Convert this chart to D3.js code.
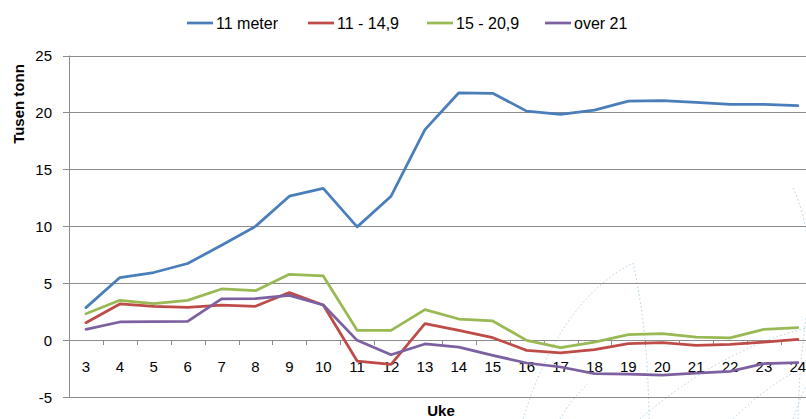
<!DOCTYPE html>
<html>
<head>
<meta charset="utf-8">
<script src="https://cdn.jsdelivr.net/npm/d3@7"></script>
<style>
  body { margin: 0; background: #fff; overflow: hidden; }
  text { font-family: "Liberation Sans", Arial, sans-serif; fill: #000; }
</style>
</head>
<body>
<div id="chart"></div>
<script>
// weeks on the x axis
var weeks = [3, 4, 5, 6, 7, 8, 9, 10, 11, 12, 13, 14, 15, 16, 17, 18, 19, 20, 21, 22, 23, 24];

var meter11 = [2.87, 5.51, 5.95, 6.74, 8.35, 10.0, 12.65, 13.33, 9.96, 12.65, 18.5, 21.73,
  21.68, 20.12, 19.83, 20.21, 21.0, 21.03, 20.88, 20.71, 20.71, 20.59];
var m11to149 = [1.55, 3.19, 2.99, 2.9, 3.1, 2.99, 4.19, 3.1, -1.82, -2.11, 1.46, 0.88,
  0.23, -0.88, -1.11, -0.82, -0.29, -0.2, -0.44, -0.35, -0.15, 0.09];
var m15to209 = [2.34, 3.51, 3.22, 3.51, 4.51, 4.36, 5.8, 5.65, 0.88, 0.88, 2.7, 1.87,
  1.7, 0.0, -0.64, -0.15, 0.5, 0.59, 0.29, 0.21, 0.97, 1.11];
var over21 = [0.97, 1.61, 1.64, 1.67, 3.63, 3.66, 3.95, 3.1, 0.0, -1.26, -0.32, -0.59,
  -1.32, -1.99, -2.34, -2.93, -2.96, -3.05, -2.87, -2.72, -2.05, -1.96];

var seriesNames = ["11 meter", "11 - 14,9", "15 - 20,9", "over 21"];
var yTicks = [-5, 0, 5, 10, 15, 20, 25];

var colors = ["#4a7ebb", "#be4b48", "#98b954", "#7d60a0"];
var series = [meter11, m11to149, m15to209, over21].map(function(vals, i) {
  return { name: seriesNames[i], color: colors[i], values: vals };
});

var svgWidth = 806, svgHeight = 419;
var left = 69, bandW = 33.9;

var svg = d3.select("#chart").append("svg")
  .attr("width", svgWidth)
  .attr("height", svgHeight);

var xScale = d3.scaleBand()
  .domain(weeks)
  .range([left, left + bandW * weeks.length]);

var yScale = d3.scaleLinear()
  .domain([-5, 25])
  .range([397.3, 55.5]);

// faint dotted background curves (watermark)
var deco = svg.append("g")
  .attr("fill", "none")
  .attr("stroke", "#adcde0")
  .attr("stroke-width", 1)
  .attr("stroke-dasharray", "1.5,2.5");
[
  "M523,419 Q560,300 633,263",
  "M633,263 Q648,330 649,419",
  "M640,419 Q720,350 806,328",
  "M733,419 Q770,383 806,366",
  "M793,419 Q800,398 806,386",
  "M560,419 Q572,398 588,384",
  "M793,188 Q806,215 808,250",
  "M806,318 Q799,370 798,419"
].forEach(function(p) { deco.append("path").attr("d", p); });

// gridlines
svg.append("g")
  .selectAll("line")
  .data(yTicks)
  .enter()
  .append("line")
  .attr("x1", left - 6)
  .attr("x2", svgWidth + 20)
  .attr("y1", d => Math.round(yScale(d)) + 0.5)
  .attr("y2", d => Math.round(yScale(d)) + 0.5)
  .attr("stroke", "#8c8c8c")
  .attr("stroke-width", 1);

// value axis line
svg.append("line")
  .attr("x1", left + 0.5).attr("x2", left + 0.5)
  .attr("y1", yScale(25)).attr("y2", yScale(-5))
  .attr("stroke", "#8c8c8c");

// y tick labels
svg.append("g")
  .selectAll("text")
  .data(yTicks)
  .enter()
  .append("text")
  .attr("x", 52)
  .attr("y", d => yScale(d))
  .attr("dy", "0.36em")
  .attr("text-anchor", "end")
  .attr("font-size", 15)
  .text(d => d);

// category axis at zero
var xAxis = d3.axisBottom(xScale).tickSize(0).tickPadding(0);
var xg = svg.append("g")
  .attr("transform", "translate(0," + (Math.round(yScale(0)) + 0.5) + ")")
  .call(xAxis);
xg.select(".domain").remove();
xg.selectAll("text")
  .attr("font-size", 15)
  .attr("dy", null)
  .attr("y", 31)
  .attr("fill", "#000");

// tick marks between categories
svg.append("g")
  .selectAll("line")
  .data(weeks.slice(1))
  .enter()
  .append("line")
  .attr("x1", d => Math.round(xScale(d)) + 0.5)
  .attr("x2", d => Math.round(xScale(d)) + 0.5)
  .attr("y1", Math.round(yScale(0)))
  .attr("y2", Math.round(yScale(0)) + 5)
  .attr("stroke", "#8c8c8c");

// lines
var line = d3.line()
  .x((d, i) => xScale(weeks[i]) + xScale.bandwidth() / 2)
  .y(d => yScale(d));

svg.append("g")
  .selectAll("path")
  .data(series)
  .enter()
  .append("path")
  .attr("d", d => line(d.values))
  .attr("fill", "none")
  .attr("stroke", d => d.color)
  .attr("stroke-width", 2.75)
  .attr("stroke-linejoin", "round")
  .attr("stroke-linecap", "round");

// axis titles
svg.append("text")
  .attr("transform", "translate(24,104) rotate(-90)")
  .attr("text-anchor", "middle")
  .attr("font-size", 15)
  .attr("font-weight", "bold")
  .text("Tusen tonn");

svg.append("text")
  .attr("x", 441)
  .attr("y", 416)
  .attr("text-anchor", "middle")
  .attr("font-size", 15)
  .attr("font-weight", "bold")
  .text("Uke");

// legend
var legendX = [187, 308, 427, 545];
var legend = svg.append("g")
  .selectAll("g")
  .data(series)
  .enter()
  .append("g")
  .attr("transform", (d, i) => "translate(" + legendX[i] + ",23)");

legend.append("line")
  .attr("x1", 0).attr("x2", 26)
  .attr("stroke", d => d.color)
  .attr("stroke-width", 2.75);

legend.append("text")
  .attr("x", 29)
  .attr("y", 5.5)
  .attr("font-size", 16)
  .text(d => d.name);
</script>
</body>
</html>
